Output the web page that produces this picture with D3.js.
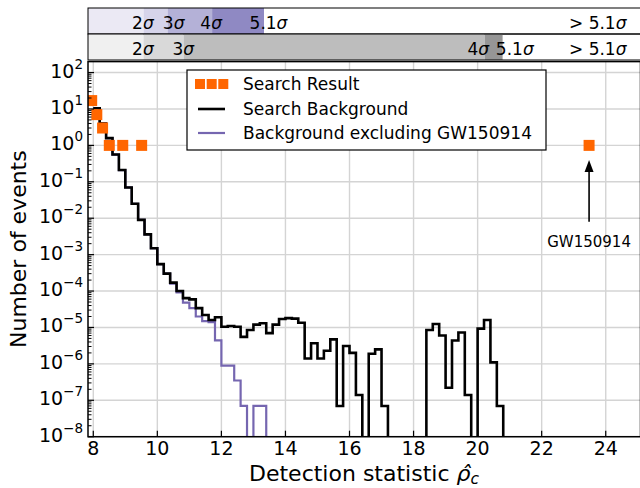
<!DOCTYPE html>
<html>
<head>
<meta charset="utf-8">
<script src="https://cdn.jsdelivr.net/npm/d3@7"></script>
<style>
  body { margin: 0; background: #fff; }
  text { font-family: "DejaVu Sans", sans-serif; fill: #000; }
</style>
</head>
<body>
<svg id="chart" width="640" height="488"></svg>
<script>
'use strict';

// histogram binning (left edge of first bin, bin width)
var binStart = 8.0, binWidth = 0.2;

// Search Background, one value per bin from 8.0 (0 = empty bin)
var background = [
  10.5, 4.0, 1.58, 0.56, 0.21,
  0.07, 0.025, 0.009, 0.0036, 0.0015,
  5.5e-4, 3.0e-4, 1.7e-4, 1.0e-4, 6.4e-5,
  5.9e-5, 3.4e-5, 2.2e-5, 1.6e-5, 1.9e-5,
  1.05e-5, 1.1e-5, 1.05e-5, 5.5e-6, 8.5e-6,
  1.2e-5, 1.3e-5, 7.0e-6, 1.2e-5, 1.7e-5,
  1.8e-5, 1.75e-5, 1.35e-5, 1.4e-6, 3.7e-6,
  1.4e-6, 2.3e-6, 4.7e-6, 7e-8, 3.1e-6,
  2.0e-6, 1.4e-7, 0, 1.9e-6, 2.5e-6,
  7e-8, 0, 0, 0, 0,
  0, 0, 8.5e-6, 1.25e-5, 6e-6,
  2.2e-7, 4.4e-6, 7.3e-6, 1.4e-7, 0,
  9.3e-6, 1.6e-5, 1.1e-6, 7e-8
];

// Background excluding GW150914
var backgroundNoGW = [
  10.5, 4.0, 1.58, 0.56, 0.21,
  0.07, 0.025, 0.009, 0.0036, 0.0015,
  5.5e-4, 3.0e-4, 1.6e-4, 9.2e-5, 4.8e-5,
  3.4e-5, 2.0e-5, 1.5e-5, 1.4e-5, 4.4e-6,
  9e-7, 9e-7, 3.5e-7, 7e-8, 0,
  7e-8, 7e-8
];

// Search Result
var resultX = [7.95, 8.11, 8.29, 8.50, 8.92, 9.51, 23.48];
var resultY = [17, 7, 3, 1, 1, 1, 1];

var xTicks = [8, 10, 12, 14, 16, 18, 20, 22, 24];
var yTickExp = [-8, -7, -6, -5, -4, -3, -2, -1, 0, 1, 2];

// significance bars above the plot
var sigmaLabels = ["2", "3", "4", "5.1", "> 5.1"];
var purpleEdges = [9.57, 10.32, 11.71, 13.33];
var purpleLabelX = [9.55, 10.51, 11.68, 13.47, 23.75];
var purpleShades = ["#ebe9f4", "#d6d4ea", "#b4b1d7", "#8f89c3"];
var greyEdges = [9.57, 10.82, 20.22, 20.78];
var greyLabelX = [9.55, 10.81, 20.02, 21.16, 23.75];
var greyShades = ["#f0f0f0", "#d9d9d9", "#bdbdbd", "#969696"];

var svg = d3.select("#chart");
var pL = 88, pR = 640.5, pT = 61.6, pB = 436.7;

var x = d3.scaleLinear().domain([7.835, 25.07]).range([pL, 640]);
var y = d3.scaleLog().domain([1e-8, 200]).range([pB, pT]);

svg.append("defs").append("clipPath").attr("id", "plotclip")
  .append("rect").attr("x", pL).attr("y", pT)
  .attr("width", pR - pL).attr("height", pB - pT);

// grid
var grid = svg.append("g");
grid.selectAll("line.gx").data(xTicks).join("line")
  .attr("x1", function(d) { return x(d); }).attr("x2", function(d) { return x(d); })
  .attr("y1", pT).attr("y2", pB)
  .attr("stroke", "#d4d4d4").attr("stroke-width", 1.4);
grid.selectAll("line.gy").data(yTickExp).join("line")
  .attr("x1", pL).attr("x2", pR)
  .attr("y1", function(d) { return y(Math.pow(10, d)); })
  .attr("y2", function(d) { return y(Math.pow(10, d)); })
  .attr("stroke", "#d4d4d4").attr("stroke-width", 1.4);

// step histograms
var toPoints = function(vals) {
  var pts = vals.map(function(v, i) { return [binStart + i * binWidth, v]; });
  pts.push([binStart + vals.length * binWidth, 0]);
  return pts;
};
var step = d3.line()
  .x(function(d) { return x(d[0]); })
  .y(function(d) { return y(d[1] > 0 ? d[1] : 1e-12); })
  .curve(d3.curveStepAfter);

var plot = svg.append("g").attr("clip-path", "url(#plotclip)");
plot.append("path").attr("d", step(toPoints(backgroundNoGW)))
  .attr("fill", "none").attr("stroke", "#7566b0").attr("stroke-width", 2.2);
plot.append("path").attr("d", step(toPoints(background)))
  .attr("fill", "none").attr("stroke", "#000").attr("stroke-width", 2.6);

plot.selectAll("rect.res").data(resultX).join("rect")
  .attr("x", function(d) { return x(d) - 5.5; })
  .attr("y", function(d, i) { return y(resultY[i]) - 5.5; })
  .attr("width", 11).attr("height", 11)
  .attr("fill", "#ff6600");

// ticks
var axes = svg.append("g");
axes.selectAll("line.xt").data(xTicks).join("line")
  .attr("x1", function(d) { return x(d); }).attr("x2", function(d) { return x(d); })
  .attr("y1", pB).attr("y2", pB - 6)
  .attr("stroke", "#000").attr("stroke-width", 1.2);
axes.selectAll("line.yt").data(yTickExp).join("line")
  .attr("x1", pL).attr("x2", pL + 6)
  .attr("y1", function(d) { return y(Math.pow(10, d)); })
  .attr("y2", function(d) { return y(Math.pow(10, d)); })
  .attr("stroke", "#000").attr("stroke-width", 1.2);
var minor = [];
yTickExp.forEach(function(e) {
  for (var k = 2; k < 10; k++) { if (k * Math.pow(10, e) < 200) minor.push(k * Math.pow(10, e)); }
});
axes.selectAll("line.ym").data(minor).join("line")
  .attr("x1", pL).attr("x2", pL + 3.5)
  .attr("y1", function(d) { return y(d); }).attr("y2", function(d) { return y(d); })
  .attr("stroke", "#000").attr("stroke-width", 1);

axes.append("rect").attr("x", pL).attr("y", pT)
  .attr("width", pR - pL).attr("height", pB - pT)
  .attr("fill", "none").attr("stroke", "#000").attr("stroke-width", 1.5);

axes.selectAll("text.xl").data(xTicks).join("text")
  .attr("x", function(d) { return x(d); }).attr("y", pB + 18.5)
  .attr("text-anchor", "middle").attr("font-size", 19)
  .text(function(d) { return d; });

axes.selectAll("text.yl").data(yTickExp).join("text")
  .attr("x", pL - 5).attr("y", function(d) { return y(Math.pow(10, d)) + 5; })
  .attr("text-anchor", "end").attr("font-size", 19)
  .each(function(d) {
    var t = d3.select(this);
    t.append("tspan").text("10");
    t.append("tspan").attr("dy", -9).attr("font-size", 13.5)
      .text(d < 0 ? "\u2212" + (-d) : d);
  });

// axis titles
var xt = svg.append("text").attr("x", (pL + 640) / 2).attr("y", 480.5)
  .attr("text-anchor", "middle").attr("font-size", 22);
xt.append("tspan").text("Detection statistic ");
xt.append("tspan").attr("font-style", "italic").text("\u03C1\u0302");
xt.append("tspan").attr("font-style", "italic").attr("font-size", 15.5).attr("dy", 3).text("c");

svg.append("text")
  .attr("transform", "translate(26," + ((pT + pB) / 2) + ") rotate(-90)")
  .attr("text-anchor", "middle").attr("font-size", 22)
  .text("Number of events");

// significance bars
var drawBar = function(y0, h, edges, shades, labelX) {
  var g = svg.append("g");
  var bounds = [x.domain()[0]].concat(edges);
  shades.forEach(function(c, i) {
    g.append("rect").attr("x", x(bounds[i])).attr("y", y0)
      .attr("width", x(bounds[i + 1]) - x(bounds[i])).attr("height", h)
      .attr("fill", c);
  });
  g.append("rect").attr("x", pL).attr("y", y0)
    .attr("width", pR - pL).attr("height", h)
    .attr("fill", "none").attr("stroke", "#000").attr("stroke-width", 1);
  g.selectAll("text").data(labelX).join("text")
    .attr("x", function(d) { return x(d); }).attr("y", y0 + h - 5)
    .attr("text-anchor", "middle").attr("font-size", 17)
    .each(function(d, i) {
      var t = d3.select(this);
      t.append("tspan").text(sigmaLabels[i]);
      t.append("tspan").attr("font-style", "italic").text("\u03C3");
    });
};
drawBar(8, 26, purpleEdges, purpleShades, purpleLabelX);
drawBar(34, 26, greyEdges, greyShades, greyLabelX);

// GW150914 annotation
var ax = x(resultX[resultX.length - 1]);
svg.append("line").attr("x1", ax).attr("x2", ax)
  .attr("y1", y(0.008)).attr("y2", y(0.4) + 10)
  .attr("stroke", "#000").attr("stroke-width", 1.6);
svg.append("path")
  .attr("d", "M" + ax + "," + y(0.4) + "l-4.5,12h9z")
  .attr("fill", "#000");
svg.append("text").attr("x", ax).attr("y", y(0.008) + 25)
  .attr("text-anchor", "middle").attr("font-size", 15)
  .text("GW150914");

// legend
var lg = svg.append("g");
lg.append("rect").attr("x", 187).attr("y", 70).attr("width", 359).attr("height", 80)
  .attr("fill", "#fff").attr("stroke", "#000").attr("stroke-width", 1.2);
[200, 211.7, 223.3].forEach(function(cx) {
  lg.append("rect").attr("x", cx - 5).attr("y", 79).attr("width", 10).attr("height", 10)
    .attr("fill", "#ff6600");
});
lg.append("line").attr("x1", 198).attr("x2", 225).attr("y1", 109).attr("y2", 109)
  .attr("stroke", "#000").attr("stroke-width", 2.6);
lg.append("line").attr("x1", 198).attr("x2", 225).attr("y1", 133).attr("y2", 133)
  .attr("stroke", "#7566b0").attr("stroke-width", 2.2);
var legendText = ["Search Result", "Search Background", "Background excluding GW150914"];
lg.selectAll("text").data(legendText).join("text")
  .attr("x", 243).attr("y", function(d, i) { return 90 + i * 24.5; })
  .attr("font-size", 17)
  .text(function(d) { return d; });
</script>
</body>
</html>
